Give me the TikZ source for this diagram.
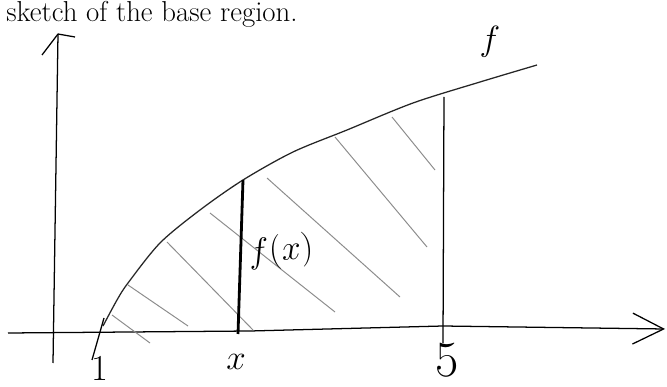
\documentclass[tikz,border=0pt]{standalone}
\usepackage{tikz}
\usetikzlibrary{arrows.meta}
\tikzset{>=latex}
\usepackage{xcolor}
\colorlet{hatchgray}{black!45}
\tikzstyle{hand}=[line width=0.9pt]
\tikzstyle{hatch}=[hatchgray,line width=0.7pt]
\tikzstyle{lbl}=[inner sep=0]

\begin{document}
\begin{tikzpicture}[x=0.025cm,y=-0.025cm]
\useasboundingbox (0,0) rectangle (667,387);
\clip (0,0) rectangle (667,387);

\node[lbl,anchor=base west] (title) at (6,22) {\fontsize{20.5}{24}\selectfont sketch of the base region.};

% axes
\coordinate (ytop) at (58,34);
\draw[hand] (53,363) -- (ytop);
\draw[hand] (ytop) -- (42,55);
\draw[hand] (ytop) -- (75,37);
\draw[hand,-{Straight Barb[length=22pt,width=22pt]}] (8,333) -- (250,331) -- (443,326) -- (665,329);

% hatching
\foreach \xa/\ya/\xb/\yb in {112/315/150/343, 128/285/188/326, 167/242/253/330,
  210/213/335/312, 267/178/400/297, 335/137/427/247, 392/117/435/170}
  \draw[hatch] (\xa,\ya) -- (\xb,\yb);

% f
\draw[hand,black!85] plot[smooth] coordinates {(103,326) (117,300) (128,283) (160,243) (200,210)
  (243,180) (293,152) (347,130) (413,103) (480,82) (537,65)};
\draw[hand] (104,318) -- (92,360);

% x and 5
\draw[line width=2pt] (243,180) -- (238,334);
\draw[hand] (444,97) -- (443,343);

\node[lbl] (lx) at (236,362) {\fontsize{24}{28}\selectfont$x$};
\node[lbl,anchor=north] (l5) at (447,343) {\fontsize{36}{40}\selectfont 5};
\node[lbl,anchor=north] (l1) at (100,356) {\fontsize{26}{30}\selectfont 1};
\node[lbl] (lf) at (490,42) {\fontsize{40}{44}\selectfont$f$};
\node[lbl,rotate=5] (lfx) at (281,252) {\fontsize{24}{28}\selectfont$f(x)$};
\end{tikzpicture}
\end{document}
